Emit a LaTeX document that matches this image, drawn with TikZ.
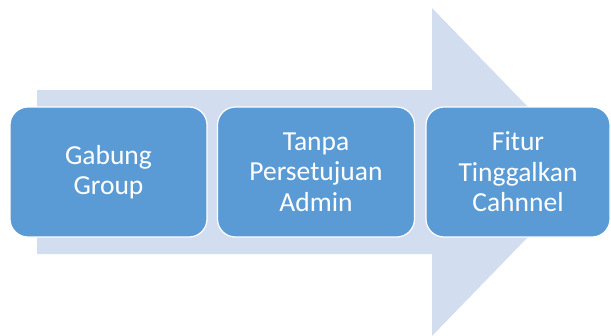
\documentclass[tikz,border=0pt]{standalone}
\usepackage{fontspec}
\setmainfont{Carlito}
\usepackage{tikz}
\usepackage{xcolor}
\definecolor{arrowblue}{RGB}{210,222,239}
\definecolor{boxblue}{RGB}{91,155,213}

\tikzset{stepbox/.style={draw=white, line width=1.2pt, fill=boxblue, rounded corners=18pt,
  minimum width=197pt, minimum height=130pt, align=center, text=white,
  font=\fontsize{27.5}{30.5}\selectfont}}

\begin{document}
\begin{tikzpicture}[x=1pt,y=-1pt]
\useasboundingbox (0,0) rectangle (611,335);
\def\bigarrow{(37,90) -- (432,90) -- (432,8) -- (591,172) -- (432,336) -- (432,254) -- (37,254) -- cycle}

\fill[arrowblue] \bigarrow;

\node[stepbox] (gabung) at (108.5,172) {Gabung\\Group};
\node[stepbox] (tanpa) at (316,172) {Tanpa\\Persetujuan\\Admin};
\node[stepbox, minimum width=184pt] (fitur) at (518,172) {Fitur\\Tinggalkan\\Cahnnel};
\end{tikzpicture}
\end{document}
